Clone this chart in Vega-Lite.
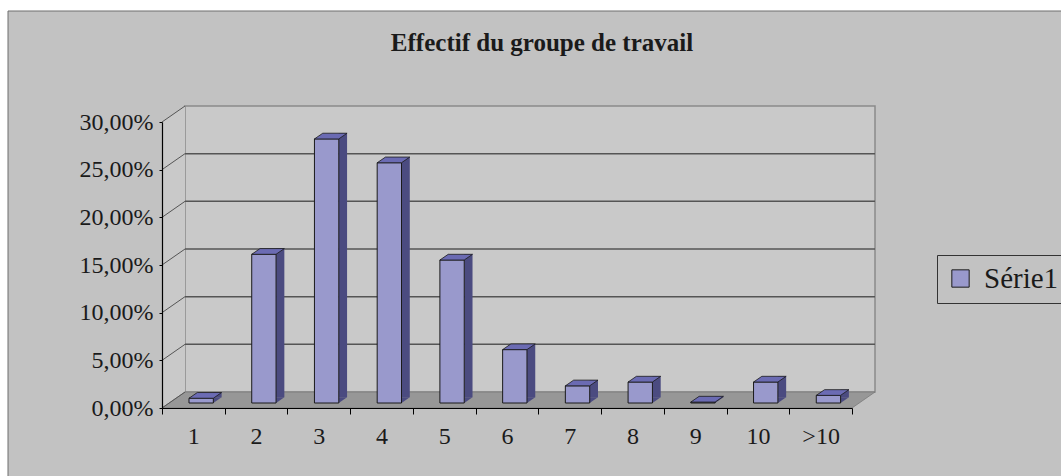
{
  "$schema": "https://vega.github.io/schema/vega-lite/v6.json",
  "autosize": {"type": "none"},
  "width": 690,
  "height": 286,
  "padding": {"left": 162, "top": 122, "right": 209, "bottom": 68},
  "background": "white",
  "title": {
    "text": "Effectif du groupe de travail",
    "font": "Liberation Serif",
    "fontSize": 25,
    "fontWeight": "bold",
    "color": "#1a1a1a",
    "anchor": "middle",
    "baseline": "alphabetic",
    "dx": 35,
    "dy": 25,
    "offset": -42
  },
  "datasets": {
    "bars": [
      {"effectif": "1", "pourcentage": 0.005, "serie": "Série1"},
      {"effectif": "2", "pourcentage": 0.156, "serie": "Série1"},
      {"effectif": "3", "pourcentage": 0.277, "serie": "Série1"},
      {"effectif": "4", "pourcentage": 0.252, "serie": "Série1"},
      {"effectif": "5", "pourcentage": 0.150, "serie": "Série1"},
      {"effectif": "6", "pourcentage": 0.056, "serie": "Série1"},
      {"effectif": "7", "pourcentage": 0.018, "serie": "Série1"},
      {"effectif": "8", "pourcentage": 0.022, "serie": "Série1"},
      {"effectif": "9", "pourcentage": 0.001, "serie": "Série1"},
      {"effectif": "10", "pourcentage": 0.022, "serie": "Série1"},
      {"effectif": ">10", "pourcentage": 0.008, "serie": "Série1"}
    ],
    "grid": [
      {"g": 0.05}, {"g": 0.10}, {"g": 0.15}, {"g": 0.20}, {"g": 0.25}
    ],
    "diag": [
      {"g": 0.0}, {"g": 0.05}, {"g": 0.10}, {"g": 0.15}, {"g": 0.20}, {"g": 0.25}, {"g": 0.30}
    ],
    "one": [{}]
  },
  "data": {"name": "bars"},
  "layer": [
    {
      "data": {"name": "one"},
      "mark": {"type": "point", "filled": true, "opacity": 1, "fill": "#C2C2C2", "stroke": "#6E6E6E", "strokeWidth": 1, "size": 1127844, "xOffset": 32, "yOffset": -19.5,
        "shape": "M -1 -0.44162 L 1 -0.44162 L 1 0.44162 L -1 0.44162 Z"},
      "encoding": {
        "x": {
          "datum": "6", "type": "nominal",
          "scale": {"domain": ["1", "2", "3", "4", "5", "6", "7", "8", "9", "10", ">10"], "paddingInner": 0, "paddingOuter": 0},
          "axis": {
            "title": null, "labelAngle": 0, "tickBand": "extent", "tickSize": 6, "zindex": 1,
            "tickColor": "#000000", "domainColor": "#000000", "domainWidth": 1.2,
            "labelFont": "Liberation Serif", "labelFontSize": 24, "labelColor": "#1a1a1a",
            "labelPadding": 10, "grid": false
          }
        },
        "y": {
          "datum": 0.15, "type": "quantitative",
          "scale": {"domain": [0, 0.3], "nice": false},
          "axis": {
            "title": null, "values": [0, 0.05, 0.1, 0.15, 0.2, 0.25, 0.3], "zindex": 1,
            "labelExpr": "replace(format(datum.value, '.2%'), '.', ',')",
            "tickSize": 3, "tickColor": "#000000", "domainColor": "#000000", "domainWidth": 1.2,
            "labelFont": "Liberation Serif", "labelFontSize": 24, "labelColor": "#1a1a1a",
            "labelPadding": 6, "grid": false
          }
        }
      }
    },
    {
      "data": {"name": "one"},
      "mark": {"type": "point", "filled": true, "opacity": 1, "fill": "#C9C9C9", "stroke": "#8A8A8A", "strokeWidth": 1.5, "size": 476100, "xOffset": 23, "yOffset": -16,
        "shape": "M -1 -0.41449 L 1 -0.41449 L 1 0.41449 L -1 0.41449 Z"},
      "encoding": {
        "x": {"datum": "6", "type": "nominal", "axis": {"title": null}},
        "y": {"datum": 0.15, "type": "quantitative", "axis": {"title": null}}
      }
    },
    {
      "data": {"name": "one"},
      "mark": {"type": "point", "filled": true, "opacity": 1, "fill": "#C9C9C9", "strokeWidth": 0, "size": 91204, "xOffset": -19.86, "yOffset": -8,
        "shape": "M -0.07616 1 L 0.07616 0.89404 L 0.07616 -1 L -0.07616 -0.89404 Z"},
      "encoding": {
        "x": {"datum": "1", "type": "nominal", "axis": {"title": null}},
        "y": {"datum": 0.15, "type": "quantitative", "axis": {"title": null}}
      }
    },
    {
      "data": {"name": "one"},
      "mark": {"type": "point", "filled": true, "opacity": 1, "fill": "#979797", "stroke": "#7A7A7A", "strokeWidth": 0.8, "size": 508369, "xOffset": 11.5, "yOffset": -8,
        "shape": "M -1 0.02244 L 0.93548 0.02244 L 1 -0.02244 L -0.93548 -0.02244 Z"},
      "encoding": {
        "x": {"datum": "6", "type": "nominal", "axis": {"title": null}},
        "y": {"datum": 0, "type": "quantitative", "axis": {"title": null}}
      }
    },
    {
      "data": {"name": "grid"},
      "mark": {"type": "point", "filled": false, "opacity": 1, "stroke": "#555555", "strokeWidth": 1.5, "size": 476100, "xOffset": 23, "yOffset": -16,
        "shape": "M -1 0 L 1 0"},
      "encoding": {
        "x": {"datum": "6", "type": "nominal", "axis": {"title": null}},
        "y": {"field": "g", "type": "quantitative", "axis": {"title": null}}
      }
    },
    {
      "data": {"name": "diag"},
      "mark": {"type": "point", "filled": false, "opacity": 1, "stroke": "#555555", "strokeWidth": 1, "size": 529, "xOffset": -19.86, "yOffset": -8,
        "shape": "M -1 0.69565 L 1 -0.69565"},
      "encoding": {
        "x": {"datum": "1", "type": "nominal", "axis": {"title": null}},
        "y": {"field": "g", "type": "quantitative", "axis": {"title": null}}
      }
    },
    {
      "mark": {"type": "bar", "width": 8.3, "fill": "#4B4B80", "xOffset": 24.1, "yOffset": -10.7, "y2Offset": -10.7},
      "encoding": {
        "x": {"field": "effectif", "type": "nominal", "axis": {"title": null}},
        "y": {"field": "pourcentage", "type": "quantitative", "axis": {"title": null}},
        "y2": {"datum": 0}
      }
    },
    {
      "mark": {"type": "point", "filled": true, "opacity": 1, "fill": "#4B4B80", "strokeWidth": 0, "size": 68.9, "xOffset": 24.1, "yOffset": -7.85,
        "shape": "M -1 0.687 L 1 -0.687 L -1 -0.687 Z"},
      "encoding": {
        "x": {"field": "effectif", "type": "nominal", "axis": {"title": null}},
        "y": {"datum": 0, "type": "quantitative", "axis": {"title": null}}
      }
    },
    {
      "mark": {"type": "bar", "width": {"band": 0.388}, "stroke": "#1a1a1a", "strokeWidth": 1, "xOffset": 7.8, "yOffset": -5, "y2Offset": -5},
      "encoding": {
        "x": {"field": "effectif", "type": "nominal", "axis": {"title": null}},
        "y": {"field": "pourcentage", "type": "quantitative", "axis": {"title": null}},
        "y2": {"datum": 0},
        "color": {
          "field": "serie", "type": "nominal",
          "scale": {"range": ["#9999CC"]},
          "legend": {
            "title": null, "orient": "none", "legendX": 775, "legendY": 133,
            "strokeColor": "#333333", "padding": 9,
            "symbolType": "square", "symbolSize": 300, "symbolStrokeColor": "#1a1a1a", "symbolStrokeWidth": 1,
            "symbolOpacity": 1,
            "labelFont": "Liberation Serif", "labelFontSize": 29, "labelColor": "#1a1a1a", "labelOffset": 9
          }
        }
      }
    },
    {
      "mark": {"type": "point", "filled": true, "opacity": 1, "fill": "#6B6BB3", "stroke": "#1a1a1a", "strokeWidth": 0.8, "size": 1063, "xOffset": 11.95, "yOffset": -7.85,
        "shape": "M -1 0.175 L 0.491 0.175 L 1 -0.175 L -0.491 -0.175 Z"},
      "encoding": {
        "x": {"field": "effectif", "type": "nominal", "axis": {"title": null}},
        "y": {"field": "pourcentage", "type": "quantitative", "axis": {"title": null}}
      }
    }
  ],
  "config": {"view": {"stroke": null}}
}
